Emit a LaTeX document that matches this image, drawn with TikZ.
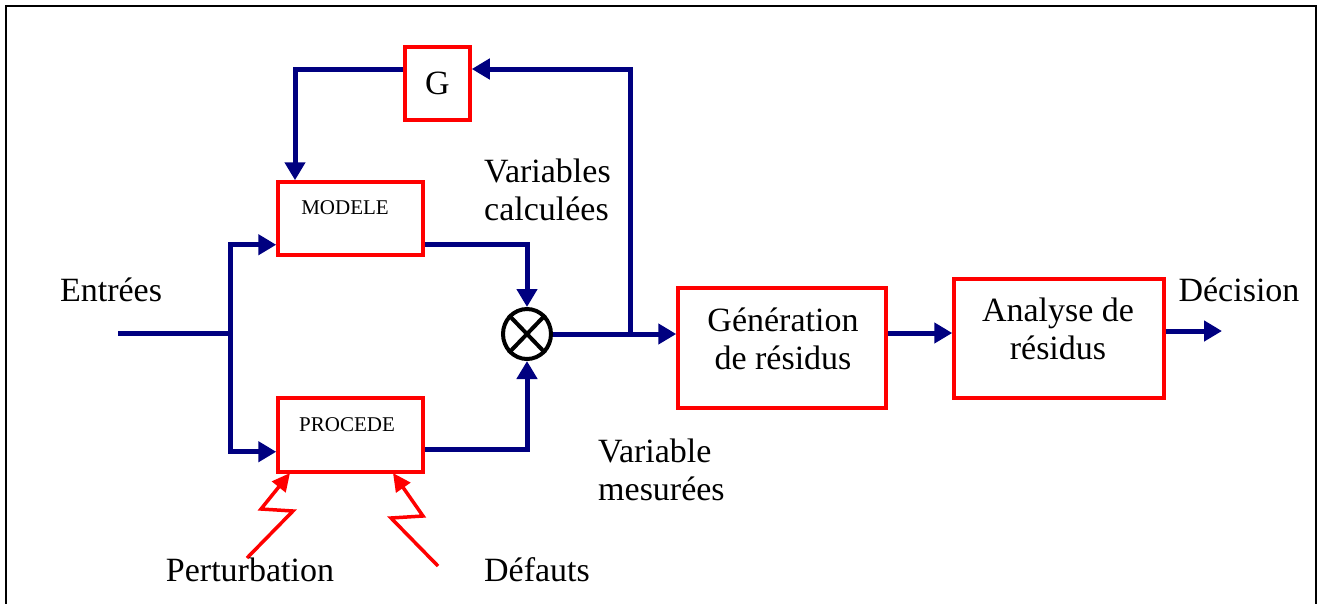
\documentclass[tikz,border=0pt]{standalone}
\usepackage{fontspec}
\setmainfont{Liberation Serif}
\usetikzlibrary{arrows.meta,calc,shapes.geometric}
\definecolor{wireblue}{RGB}{0,0,128}
\begin{document}
\begin{tikzpicture}[x=1pt,y=-1pt,
  blk/.style={draw=red, line width=3.5pt, inner sep=0pt, fill=white},
  wire/.style={draw=wireblue, line width=5pt},
  warr/.style={wire, -{Triangle[length=18pt,width=20pt]}},
  bolt/.style={draw=red, line width=3.5pt, -{Triangle[length=18pt,width=17pt]}},
  big/.style={font=\fontsize{34}{38}\selectfont, inner sep=0pt},
  small/.style={font=\fontsize{21}{24}\selectfont, inner sep=0pt}]
\useasboundingbox (0,0) rectangle (1320,603);
\draw[line width=2pt] (6,620) -- (6,6) -- (1316,6) -- (1316,620);

% blocks
\node[blk, minimum width=65pt, minimum height=73pt, big] (G) at (437.5,83.5) {G};
\node[blk, minimum width=145pt, minimum height=73pt] (MOD) at (350.5,218.5) {};
\node[blk, minimum width=145pt, minimum height=74pt] (PRO) at (350.5,435) {};
\node[blk, minimum width=208pt, minimum height=120pt] (GEN) at (782,348) {};
\node[blk, minimum width=210pt, minimum height=119pt] (ANA) at (1059,338.5) {};
\node[draw=black, line width=4pt, ellipse, minimum width=48pt, minimum height=50pt, inner sep=0pt] (CIR) at (527,334) {};
\draw[line width=4pt] (CIR.north west) -- (CIR.south east) (CIR.north east) -- (CIR.south west);

% block texts
\node[small] (tmod) at (345,208) {MODELE};
\node[small] (tpro) at (347,425) {PROCEDE};
\node[big, align=center] (tgen) at (783,339) {Génération\\de résidus};
\node[big, align=center] (tana) at (1058,329) {Analyse de\\résidus};

% coordinates
\coordinate (in) at (118,333);
\coordinate (split) at (230,333);
\coordinate (tap) at (630,333);
\coordinate (fb) at (630,69);
\coordinate (fb2) at (295,69);
\coordinate (dec) at (1222,331);
\coordinate (ga) at ($(GEN.east)+(0,-15)$);

% connectors
\draw[wire] (in) -- (split);
\draw[warr] (split) |- ($(MOD.south west)+(0,-12)$);
\draw[warr] (split) |- ($(PRO.south west)+(0,-22)$);
\draw[warr] ($(MOD.south east)+(0,-12)$) -| (CIR.north);
\draw[warr] ($(PRO.south east)+(0,-24)$) -| (CIR.south);
\draw[warr] (CIR.east) -- (CIR.east -| GEN.west);
\draw[warr] (tap) -- (fb) -- (fb -| G.east);
\draw[warr] (fb -| G.west) -- (fb2) -- (fb2 |- MOD.north);
\draw[warr] (ga) -- (ga -| ANA.west);
\draw[warr] (dec -| ANA.east) -- (dec);

% disturbances
\coordinate (p0) at (247,558);
\coordinate (d0) at (438,566);
\draw[bolt] (p0) -- (293,511) -- (261,509) -- (290,473);
\draw[bolt] (d0) -- (391,518) -- (423,516) -- (393,473);

% labels
\node[big] (lent) at (111,290) {Entrées};
\node[big, align=left, anchor=west] (lcal) at (484,190) {Variables\\calculées};
\node[big, align=left, anchor=west] (lmes) at (598,470) {Variable\\mesurées};
\node[big] (lper) at (250,570) {Perturbation};
\node[big] (ldef) at (537,570) {Défauts};
\node[big] (ldec) at (1239,290) {Décision};
\end{tikzpicture}
\end{document}
